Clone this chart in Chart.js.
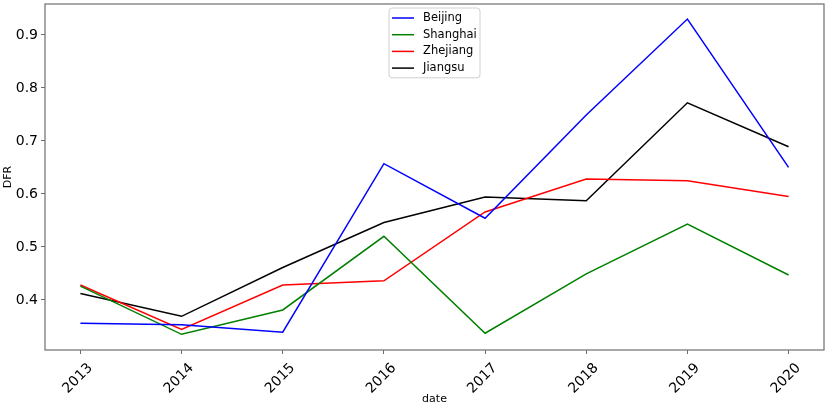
<!DOCTYPE html>
<html>
<head>
<meta charset="utf-8">
<script src="https://cdn.jsdelivr.net/npm/chart.js@4"></script>
<style>
html,body{margin:0;padding:0;background:#fff;}
#wrap{width:829px;height:408px;}
</style>
</head>
<body>
<div id="wrap"><canvas id="c" width="829" height="408"></canvas></div>
<script>
const years = [2013, 2014, 2015, 2016, 2017, 2018, 2019, 2020];
const beijing  = [0.356, 0.353, 0.339, 0.657, 0.554, 0.749, 0.930, 0.650];
const shanghai = [0.426, 0.335, 0.381, 0.520, 0.337, 0.449, 0.543, 0.447];
const zhejiang = [0.428, 0.344, 0.428, 0.436, 0.566, 0.628, 0.625, 0.595];
const jiangsu  = [0.412, 0.369, 0.461, 0.546, 0.594, 0.587, 0.772, 0.689];
const yTicks = [0.4, 0.5, 0.6, 0.7, 0.8, 0.9];

const toPts = arr => years.map((y, i) => ({x: y, y: arr[i]}));

const frame = {
  id: 'frame',
  afterDatasetsDraw(chart) {
    const a = chart.chartArea, ctx = chart.ctx;
    ctx.save();
    ctx.strokeStyle = '#6e6e6e';
    ctx.lineWidth = 1.2;
    ctx.strokeRect(a.left, a.top, a.right - a.left, a.bottom - a.top);
    ctx.restore();
  }
};

const boxLegend = {
  id: 'boxLegend',
  afterDraw(chart) {
    const a = chart.chartArea, ctx = chart.ctx;
    const ds = chart.data.datasets;
    const w = 91, rowH = 16.7;
    const h = rowH * ds.length + 3;
    const x0 = (a.left + a.right) / 2 - w / 2;
    const y0 = a.top + 4;
    ctx.save();
    ctx.fillStyle = 'rgba(255,255,255,0.8)';
    ctx.strokeStyle = '#d0d0d0';
    ctx.lineWidth = 1;
    ctx.beginPath();
    ctx.roundRect(x0, y0, w, h, 3);
    ctx.fill();
    ctx.stroke();
    ctx.font = '11.5px "DejaVu Sans"';
    ctx.textBaseline = 'middle';
    ctx.textAlign = 'left';
    ds.forEach((d, i) => {
      const yy = y0 + 10 + i * rowH;
      ctx.strokeStyle = d.borderColor;
      ctx.lineWidth = 1.5;
      ctx.beginPath();
      ctx.moveTo(x0 + 3, yy);
      ctx.lineTo(x0 + 25, yy);
      ctx.stroke();
      ctx.fillStyle = '#000';
      ctx.fillText(d.label, x0 + 34, yy);
    });
    ctx.restore();
  }
};

new Chart(document.getElementById('c'), {
  type: 'line',
  data: {
    datasets: [
      {label: 'Beijing',  data: toPts(beijing),  borderColor: '#0000ff'},
      {label: 'Shanghai', data: toPts(shanghai), borderColor: '#008000'},
      {label: 'Zhejiang', data: toPts(zhejiang), borderColor: '#ff0000'},
      {label: 'Jiangsu',  data: toPts(jiangsu),  borderColor: '#000000'}
    ]
  },
  options: {
    responsive: false,
    animation: false,
    devicePixelRatio: 1,
    layout: {padding: {top: 4, right: 5, left: 0, bottom: 0}},
    elements: {
      line: {borderWidth: 1.5, tension: 0, fill: false},
      point: {radius: 0, hoverRadius: 0}
    },
    plugins: {
      legend: {display: false},
      tooltip: {enabled: false}
    },
    scales: {
      x: {
        type: 'linear',
        min: 2012.65,
        max: 2020.35,
        afterBuildTicks(s) { s.ticks = years.map(v => ({value: v})); },
        afterFit(s) { s.height = 58; s.paddingLeft = 0; s.paddingRight = 0; },
        grid: {display: true, drawOnChartArea: false, drawTicks: true, tickLength: 4, color: '#6e6e6e'},
        border: {display: false},
        ticks: {
          autoSkip: false,
          minRotation: 45, maxRotation: 45,
          padding: 6,
          labelOffset: 10,
          color: '#000',
          font: {family: '"DejaVu Sans"', size: 14},
          callback: v => String(v)
        },
        title: {display: true, text: 'date', color: '#000', font: {family: '"DejaVu Sans"', size: 11}, padding: {top: 0, bottom: 2}}
      },
      y: {
        type: 'linear',
        min: 0.3054,
        max: 0.9584,
        afterBuildTicks(s) { s.ticks = yTicks.map(v => ({value: v})); },
        afterFit(s) { s.width = 45; s.paddingTop = 0; s.paddingBottom = 0; },
        grid: {display: true, drawOnChartArea: false, drawTicks: true, tickLength: 4, color: '#6e6e6e'},
        border: {display: false},
        ticks: {
          padding: 3,
          color: '#000',
          font: {family: '"DejaVu Sans"', size: 14},
          callback: v => v.toFixed(1)
        },
        title: {display: true, text: 'DFR', color: '#000', font: {family: '"DejaVu Sans"', size: 11}, padding: {top: 2, bottom: 2}}
      }
    }
  },
  plugins: [frame, boxLegend]
});
</script>
</body>
</html>
